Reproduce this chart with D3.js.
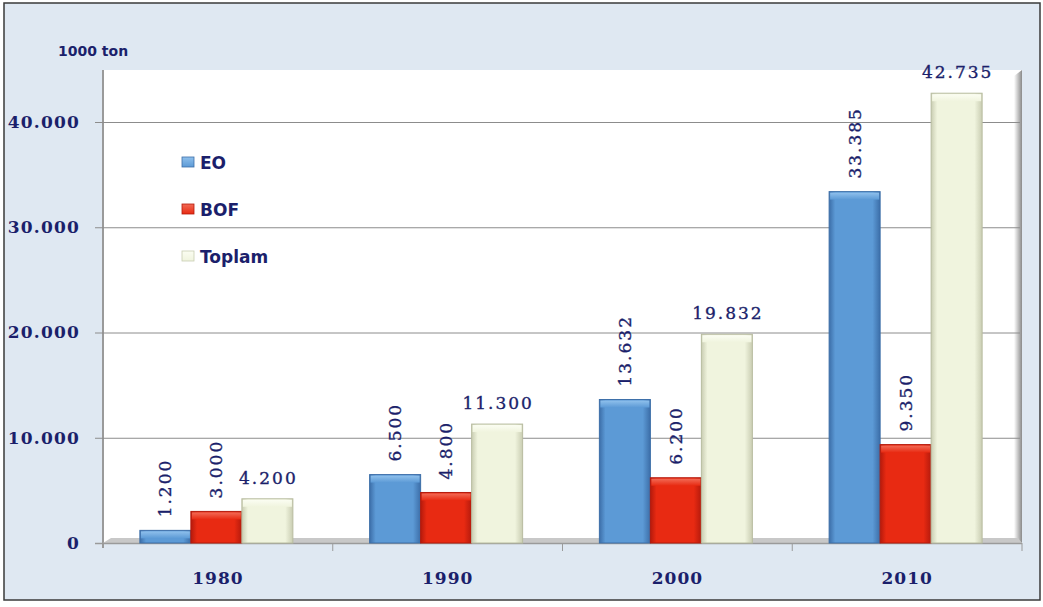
<!DOCTYPE html>
<html>
<head>
<meta charset="utf-8">
<script src="https://cdn.jsdelivr.net/npm/d3@7"></script>
<style>
  body { margin: 0; background: #fff; }
  svg { display: block; }
</style>
</head>
<body>
<svg id="chart" width="1043" height="607"></svg>
<script>
// data
var years = ["1980", "1990", "2000", "2010"];
var seriesNames = ["EO", "BOF", "Toplam"];
var eoValues = [1200, 6500, 13632, 33385];
var bofValues = [3000, 4800, 6200, 9350];
var toplamValues = [4200, 11300, 19832, 42735];
var yTicks = [0, 10000, 20000, 30000, 40000];

var seriesValues = [eoValues, bofValues, toplamValues];

var svg = d3.select("#chart");
var navy = "#1b1f6b";

var plot = {left: 103, right: 1022, top: 70, bottom: 543};

var defs = svg.append("defs");
// bar gradients: darker edges, lighter middle
var palette = {
    EO: {edge: "#3c6ea8", mid: "#5c9ad6", top: "#8fc0ec"},
    BOF: {edge: "#b51a0c", mid: "#e82a12", top: "#f26a55"},
    Toplam: {edge: "#c9cdb2", mid: "#f0f4de", top: "#fbfdf2"}
};
seriesNames.forEach(function(s) {
    var g = defs.append("linearGradient").attr("id", "grad-" + s)
        .attr("x1", 0).attr("x2", 1).attr("y1", 0).attr("y2", 0);
    g.append("stop").attr("offset", "0%").attr("stop-color", palette[s].edge);
    g.append("stop").attr("offset", "12%").attr("stop-color", palette[s].mid);
    g.append("stop").attr("offset", "85%").attr("stop-color", palette[s].mid);
    g.append("stop").attr("offset", "100%").attr("stop-color", palette[s].edge);
    var t = defs.append("linearGradient").attr("id", "top-" + s)
        .attr("x1", 0).attr("x2", 0).attr("y1", 0).attr("y2", 1);
    t.append("stop").attr("offset", "0%").attr("stop-color", palette[s].top);
    t.append("stop").attr("offset", "100%").attr("stop-color", palette[s].mid);
});
var wall = defs.append("linearGradient").attr("id", "wall")
    .attr("x1", 0).attr("x2", 1).attr("y1", 0).attr("y2", 0);
wall.append("stop").attr("offset", "0%").attr("stop-color", "#ffffff");
wall.append("stop").attr("offset", "100%").attr("stop-color", "#8a8a8a");

// background and frame
svg.append("rect").attr("x", 4).attr("y", 3).attr("width", 1036).attr("height", 597)
    .attr("fill", "#dfe8f2").attr("stroke", "#3a3a3a").attr("stroke-width", 1.5);

// plot wall
svg.append("rect").attr("x", plot.left).attr("y", plot.top)
    .attr("width", plot.right - plot.left).attr("height", plot.bottom - plot.top)
    .attr("fill", "#ffffff");
// right side wall shading
svg.append("polygon")
    .attr("points", [[plot.right - 8, plot.top + 6], [plot.right, plot.top], [plot.right, plot.bottom], [plot.right - 8, plot.bottom - 4]].join(" "))
    .attr("fill", "url(#wall)");
// left wall line
svg.append("line").attr("x1", plot.left).attr("x2", plot.left)
    .attr("y1", plot.top).attr("y2", plot.bottom + 5)
    .attr("stroke", "#9a9a9a").attr("stroke-width", 2);

var y = d3.scaleLinear().domain([0, 45000]).range([plot.bottom, plot.bottom - 4.5 * 105.25]);
var x0 = d3.scaleBand().domain(years).range([plot.left, plot.right]).padding(0);
var bw = x0.bandwidth();
var x1 = d3.scaleBand().domain(seriesNames).range([bw / 2 - 78, bw / 2 + 75]).padding(0);

// gridlines
svg.append("g").selectAll("line").data(yTicks.filter(function(d) { return d > 0; }))
    .enter().append("line")
    .attr("x1", plot.left - 8).attr("x2", plot.right - 2)
    .attr("y1", function(d) { return y(d) + 0.5; }).attr("y2", function(d) { return y(d) + 0.5; })
    .attr("stroke", "#8c8c8c").attr("stroke-width", 1);

// floor
svg.append("polygon")
    .attr("points", [[plot.left, plot.bottom], [plot.left + 8, plot.bottom - 5], [plot.right - 4, plot.bottom - 5], [plot.right, plot.bottom]].join(" "))
    .attr("fill", "#c8c8c8");
svg.append("line").attr("x1", plot.left - 8).attr("x2", plot.right)
    .attr("y1", plot.bottom + 0.5).attr("y2", plot.bottom + 0.5)
    .attr("stroke", "#9a9a9a").attr("stroke-width", 1.5);

// y axis labels
var yAxis = d3.axisLeft(y).tickValues(yTicks).tickSize(0).tickPadding(0)
    .tickFormat(function(d) { return d3.format(",")(d).replace(/,/g, "."); });
var ya = svg.append("g").attr("transform", "translate(80,0)").call(yAxis);
ya.select(".domain").remove();
ya.selectAll("text").attr("fill", navy).attr("font-family", "DejaVu Serif")
    .attr("font-weight", "bold").attr("font-size", 17).attr("letter-spacing", 1.2);

// x axis
var xAxis = d3.axisBottom(x0).tickSize(0).tickPadding(0);
var xa = svg.append("g").attr("transform", "translate(0,572)").call(xAxis);
xa.select(".domain").remove();
xa.selectAll("text").attr("fill", navy).attr("font-family", "DejaVu Serif")
    .attr("font-weight", "bold").attr("font-size", 17).attr("letter-spacing", 1);
// category dividers
svg.append("g").selectAll("line").data(years.slice(1)).enter().append("line")
    .attr("x1", function(d) { return x0(d); }).attr("x2", function(d) { return x0(d); })
    .attr("y1", plot.bottom).attr("y2", plot.bottom + 8)
    .attr("stroke", "#9a9a9a").attr("stroke-width", 1);
svg.append("line").attr("x1", plot.right).attr("x2", plot.right)
    .attr("y1", plot.bottom).attr("y2", plot.bottom + 8)
    .attr("stroke", "#9a9a9a").attr("stroke-width", 1);

// unit label
svg.append("text").attr("x", 58).attr("y", 56).text("1000 ton")
    .attr("fill", navy).attr("font-family", "DejaVu Sans").attr("font-weight", "bold")
    .attr("font-size", 14);

// bars
var groups = svg.append("g").selectAll("g").data(years).enter().append("g")
    .attr("transform", function(d) { return "translate(" + x0(d) + ",0)"; });

var cells = groups.selectAll("g").data(function(d, i) {
    return seriesNames.map(function(s, k) { return {series: s, value: seriesValues[k][i]}; });
}).enter().append("g");

cells.append("rect")
    .attr("x", function(d) { return x1(d.series); })
    .attr("y", function(d) { return y(d.value); })
    .attr("width", x1.bandwidth())
    .attr("height", function(d) { return y(0) - y(d.value); })
    .attr("fill", function(d) { return "url(#grad-" + d.series + ")"; })
    .attr("stroke", function(d) { return d.series === "Toplam" ? "#b8bca0" : palette[d.series].edge; })
    .attr("stroke-width", 1);
cells.append("rect")
    .attr("x", function(d) { return x1(d.series) + 1; })
    .attr("y", function(d) { return y(d.value) + 1; })
    .attr("width", x1.bandwidth() - 2)
    .attr("height", function(d) { return Math.min(7, y(0) - y(d.value) - 1); })
    .attr("fill", function(d) { return "url(#top-" + d.series + ")"; });

var fmt = function(v) { return d3.format(",")(v).replace(/,/g, "."); };

cells.append("text")
    .text(function(d) { return fmt(d.value); })
    .attr("fill", navy).attr("stroke", navy).attr("stroke-width", 0.35)
    .attr("font-family", "DejaVu Serif").attr("font-size", 17)
    .attr("letter-spacing", 2)
    .attr("transform", function(d) {
        var cx = x1(d.series) + x1.bandwidth() / 2;
        if (d.series === "Toplam") return "translate(" + (cx + 1) + "," + (y(d.value) - 15) + ")";
        return "translate(" + (cx + 6) + "," + (y(d.value) - 13) + ") rotate(-90)";
    })
    .attr("text-anchor", function(d) { return d.series === "Toplam" ? "middle" : "start"; });

// legend
var legend = svg.append("g").attr("transform", "translate(182,163)");
var li = legend.selectAll("g").data(seriesNames).enter().append("g")
    .attr("transform", function(d, i) { return "translate(0," + (i * 47) + ")"; });
li.append("rect").attr("x", 0).attr("y", -6).attr("width", 12).attr("height", 10)
    .attr("fill", function(d) { return "url(#top-" + d + ")"; })
    .attr("stroke", function(d) { return palette[d].edge; }).attr("stroke-width", 0.8);
li.append("text").attr("x", 18).attr("y", 6).text(function(d) { return d; })
    .attr("fill", navy).attr("font-family", "DejaVu Sans").attr("font-weight", "bold")
    .attr("font-size", 17);
</script>
</body>
</html>
